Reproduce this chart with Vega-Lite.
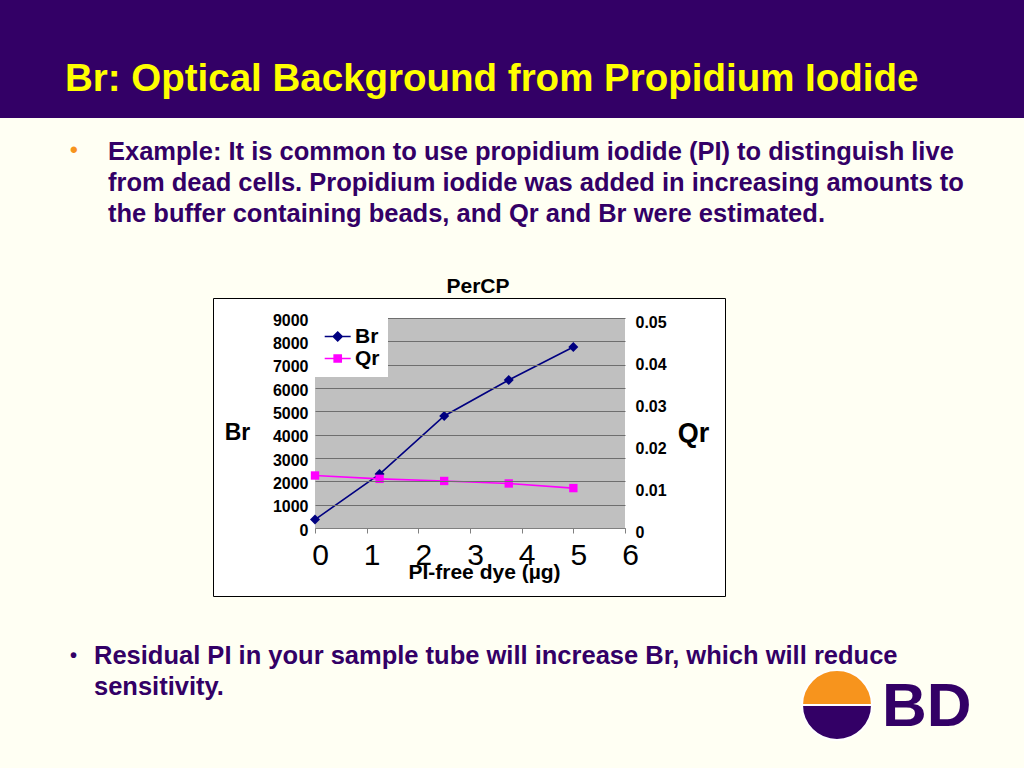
{
  "$schema": "https://vega.github.io/schema/vega-lite/v6.json",
  "background": "#FFFFF3",
  "padding": 0,
  "columns": 3,
  "spacing": 0,
  "bounds": "flush",
  "align": "each",
  "resolve": {"scale": {"color": "independent"}, "legend": {"color": "independent"}},
  "config": {
    "font": "Liberation Sans",
    "view": {"stroke": null},
    "title": {"font": "Liberation Sans", "limit": 2000, "frame": "group"}
  },
  "concat": [
    {"width": 213, "height": 118, "view": {"fill": "#330066", "stroke": null}, "data": {"values": []}, "mark": "point"},
    {"width": 512, "height": 118, "view": {"fill": "#330066", "stroke": null}, "data": {"values": []}, "mark": "point"},
    {
      "width": 299, "height": 118,
      "view": {"fill": "#330066", "stroke": null},
      "title": {"text": "Br: Optical Background from Propidium Iodide", "anchor": "start", "dx": -660, "offset": -99, "color": "#FFFF00", "fontSize": 38.5, "fontWeight": "bold"},
      "data": {"values": []}, "mark": "point"
    },
    {
      "width": 213, "height": 180,
      "title": {"text": "•", "anchor": "start", "dx": 70, "offset": -44, "color": "#F7941D", "fontSize": 22, "fontWeight": "bold"},
      "data": {"values": []}, "mark": "point"
    },
    {
      "width": 512, "height": 180,
      "title": {
        "text": ["Example: It is common to use propidium iodide (PI) to distinguish live", "from dead cells. Propidium iodide was added in increasing amounts to", "the buffer containing beads, and Qr and Br were estimated."],
        "anchor": "start", "dx": -105, "offset": -109, "color": "#330066", "fontSize": 25.5, "fontWeight": "bold", "lineHeight": 31
      },
      "data": {"values": []}, "mark": "point"
    },
    {"width": 299, "height": 180, "data": {"values": []}, "mark": "point"},
    {"width": 213, "height": 298, "data": {"values": []}, "mark": "point"},
    {
      "width": 512, "height": 298,
      "view": {"fill": "#FFFFFF", "stroke": "#000000", "strokeWidth": 1},
      "title": {"text": "PerCP", "anchor": "middle", "dx": 9, "offset": 1, "color": "#000000", "fontSize": 21, "fontWeight": "bold"},
      "data": {
        "values": [
          {"series": "Br", "dye": 0, "value": 360},
          {"series": "Br", "dye": 1.25, "value": 2310},
          {"series": "Br", "dye": 2.5, "value": 4800},
          {"series": "Br", "dye": 3.75, "value": 6340},
          {"series": "Br", "dye": 5, "value": 7760},
          {"series": "Qr", "dye": 0, "value": 0.0125},
          {"series": "Qr", "dye": 1.25, "value": 0.0117},
          {"series": "Qr", "dye": 2.5, "value": 0.0112},
          {"series": "Qr", "dye": 3.75, "value": 0.0106},
          {"series": "Qr", "dye": 5, "value": 0.0095}
        ]
      },
      "layer": [
        {
          "layer": [
            {
              "data": {"values": [{}]},
              "mark": {"type": "rect", "color": "#C0C0C0"},
              "encoding": {
                "x": {
                  "datum": 0, "type": "quantitative",
                  "scale": {"domain": [0, 6], "range": [102, 412], "nice": false, "zero": false},
                  "axis": {
                    "orient": "bottom", "offset": -68, "values": [0, 1, 2, 3, 4, 5, 6], "format": "d", "grid": false,
                    "domain": true, "domainColor": "#808080", "ticks": true, "tickColor": "#808080", "tickSize": 5,
                    "labelFontSize": 30, "labelFontWeight": "normal", "labelColor": "#000000", "labelBaseline": "alphabetic", "labelPadding": 31,
                    "labelOffset": 5, "labelOverlap": false, "labelFlush": false,
                    "title": "PI-free dye (µg)", "titleFontSize": 21, "titleFontWeight": "bold", "titleColor": "#000000",
                    "titleX": 271, "titleY": 50, "titleBaseline": "alphabetic", "titleAlign": "center", "zindex": 1
                  }
                },
                "x2": {"datum": 6},
                "y": {
                  "datum": 0, "type": "quantitative",
                  "scale": {"domain": [0, 9000], "range": [230, 20], "nice": false},
                  "axis": {
                    "orient": "left", "offset": -102, "values": [0, 1000, 2000, 3000, 4000, 5000, 6000, 7000, 8000, 9000], "format": "d",
                    "grid": true, "gridColor": "#6E6E6E", "gridWidth": 1, "gridOpacity": 1,
                    "domain": false, "ticks": false, "tickSize": 0,
                    "labelFontSize": 16, "labelFontWeight": "bold", "labelColor": "#000000", "labelPadding": 7, "labelOffset": 2,
                    "title": "Br", "titleAngle": 0, "titleX": -78, "titleY": 134, "titleFontSize": 23, "titleFontWeight": "bold",
                    "titleColor": "#000000", "titleAlign": "center", "titleBaseline": "middle", "zindex": 1
                  }
                },
                "y2": {"datum": 9000}
              }
            },
            {
              "transform": [{"filter": "datum.series === 'Br'"}],
              "mark": {"type": "line", "strokeWidth": 1.6, "point": {"shape": "diamond", "size": 100, "filled": true}},
              "encoding": {
                "x": {
                  "field": "dye", "type": "quantitative",
                  "scale": {"domain": [0, 6], "range": [102, 412], "nice": false, "zero": false},
                  "axis": {
                    "orient": "bottom", "offset": -68, "values": [0, 1, 2, 3, 4, 5, 6], "format": "d", "grid": false,
                    "domain": true, "domainColor": "#808080", "ticks": true, "tickColor": "#808080", "tickSize": 5,
                    "labelFontSize": 30, "labelFontWeight": "normal", "labelColor": "#000000", "labelBaseline": "alphabetic", "labelPadding": 31,
                    "labelOffset": 5, "labelOverlap": false, "labelFlush": false,
                    "title": "PI-free dye (µg)", "titleFontSize": 21, "titleFontWeight": "bold", "titleColor": "#000000",
                    "titleX": 271, "titleY": 50, "titleBaseline": "alphabetic", "titleAlign": "center", "zindex": 1
                  }
                },
                "y": {
                  "field": "value", "type": "quantitative",
                  "scale": {"domain": [0, 9000], "range": [230, 20], "nice": false},
                  "axis": {
                    "orient": "left", "offset": -102, "values": [0, 1000, 2000, 3000, 4000, 5000, 6000, 7000, 8000, 9000], "format": "d",
                    "grid": true, "gridColor": "#6E6E6E", "gridWidth": 1, "gridOpacity": 1,
                    "domain": false, "ticks": false, "tickSize": 0,
                    "labelFontSize": 16, "labelFontWeight": "bold", "labelColor": "#000000", "labelPadding": 7, "labelOffset": 2,
                    "title": "Br", "titleAngle": 0, "titleX": -78, "titleY": 134, "titleFontSize": 23, "titleFontWeight": "bold",
                    "titleColor": "#000000", "titleAlign": "center", "titleBaseline": "middle", "zindex": 1
                  }
                },
                "color": {
                  "field": "series", "type": "nominal",
                  "scale": {"domain": ["Br", "Qr"], "range": ["#000080", "#FF00FF"]},
                  "legend": {
                    "orient": "none", "legendX": 101, "legendY": 20, "title": null, "fillColor": "#FFFFFF", "padding": 8,
                    "labelFontSize": 21, "labelFontWeight": "bold", "labelColor": "#000000", "labelOffset": 12,
                    "symbolSize": 169, "symbolStrokeWidth": 1.5, "rowPadding": 0, "zindex": 2,
                    "encode": {
                      "symbols": {
                        "update": {
                          "shape": {"signal": "datum.value === 'Br' ? 'M-1.2,0L2.8,0M0.8,-0.7L1.5,0L0.8,0.7L0.1,0Z' : 'M-1.2,0L2.8,0M0.25,-0.55L1.35,-0.55L1.35,0.55L0.25,0.55Z'"},
                          "fill": {"signal": "datum.value === 'Br' ? '#000080' : '#FF00FF'"},
                          "stroke": {"signal": "datum.value === 'Br' ? '#000080' : '#FF00FF'"},
                          "strokeWidth": {"value": 1.5},
                          "opacity": {"value": 1}
                        }
                      }
                    }
                  }
                }
              }
            }
          ]
        },
        {
          "transform": [{"filter": "datum.series === 'Qr'"}],
          "mark": {"type": "line", "strokeWidth": 1.6, "point": {"shape": "square", "size": 70, "filled": true}},
          "encoding": {
            "x": {
              "field": "dye", "type": "quantitative",
              "scale": {"domain": [0, 6], "range": [102, 412], "nice": false, "zero": false},
              "axis": {
                "orient": "bottom", "offset": -68, "values": [0, 1, 2, 3, 4, 5, 6], "format": "d", "grid": false,
                "domain": true, "domainColor": "#808080", "ticks": true, "tickColor": "#808080", "tickSize": 5,
                "labelFontSize": 30, "labelFontWeight": "normal", "labelColor": "#000000", "labelBaseline": "alphabetic", "labelPadding": 31,
                "labelOffset": 5, "labelOverlap": false, "labelFlush": false,
                "title": "PI-free dye (µg)", "titleFontSize": 21, "titleFontWeight": "bold", "titleColor": "#000000",
                "titleX": 271, "titleY": 50, "titleBaseline": "alphabetic", "titleAlign": "center", "zindex": 1
              }
            },
            "y": {
              "field": "value", "type": "quantitative",
              "scale": {"domain": [0, 0.05], "range": [230, 20], "nice": false},
              "axis": {
                "orient": "right", "offset": -100, "values": [0, 0.01, 0.02, 0.03, 0.04, 0.05], "format": ".2~f",
                "grid": false, "domain": false, "ticks": false, "tickSize": 0,
                "labelFontSize": 16, "labelFontWeight": "bold", "labelColor": "#000000", "labelPadding": 10, "labelOffset": 4,
                "title": "Qr", "titleAngle": 0, "titleX": 68, "titleY": 135, "titleFontSize": 27, "titleFontWeight": "bold",
                "titleColor": "#000000", "titleAlign": "center", "titleBaseline": "middle"
              }
            },
            "color": {
              "field": "series", "type": "nominal",
              "scale": {"domain": ["Br", "Qr"], "range": ["#000080", "#FF00FF"]}
            }
          }
        }
      ],
      "resolve": {"scale": {"y": "independent"}}
    },
    {"width": 299, "height": 298, "data": {"values": []}, "mark": "point"},
    {
      "width": 213, "height": 172,
      "title": {"text": "•", "anchor": "start", "dx": 70, "offset": -70, "color": "#330066", "fontSize": 20, "fontWeight": "bold"},
      "data": {"values": []}, "mark": "point"
    },
    {
      "width": 512, "height": 172,
      "title": {
        "text": ["Residual PI in your sample tube will increase Br, which will reduce", "sensitivity."],
        "anchor": "start", "dx": -119, "offset": -104, "color": "#330066", "fontSize": 25.5, "fontWeight": "bold", "lineHeight": 31
      },
      "data": {"values": []}, "mark": "point"
    },
    {
      "width": 224, "height": 109,
      "title": {"text": "BD", "anchor": "start", "dx": 157, "offset": -143, "color": "#330066", "fontSize": 62, "fontWeight": "bold"},
      "data": {"values": [{"part": "sun", "share": 1, "k": 1}, {"part": "bowl", "share": 1, "k": 2}]},
      "mark": {"type": "arc", "outerRadius": 35, "stroke": "#FFFFFF", "strokeWidth": 2},
      "encoding": {
        "theta": {"field": "share", "type": "quantitative", "stack": true, "scale": {"range": [-1.5708, 4.7124]}},
        "order": {"field": "k", "type": "quantitative"},
        "color": {"field": "part", "type": "nominal", "legend": null, "scale": {"domain": ["sun", "bowl"], "range": ["#F7941D", "#330066"]}},
        "y": {"value": "height"}
      }
    }
  ]
}
